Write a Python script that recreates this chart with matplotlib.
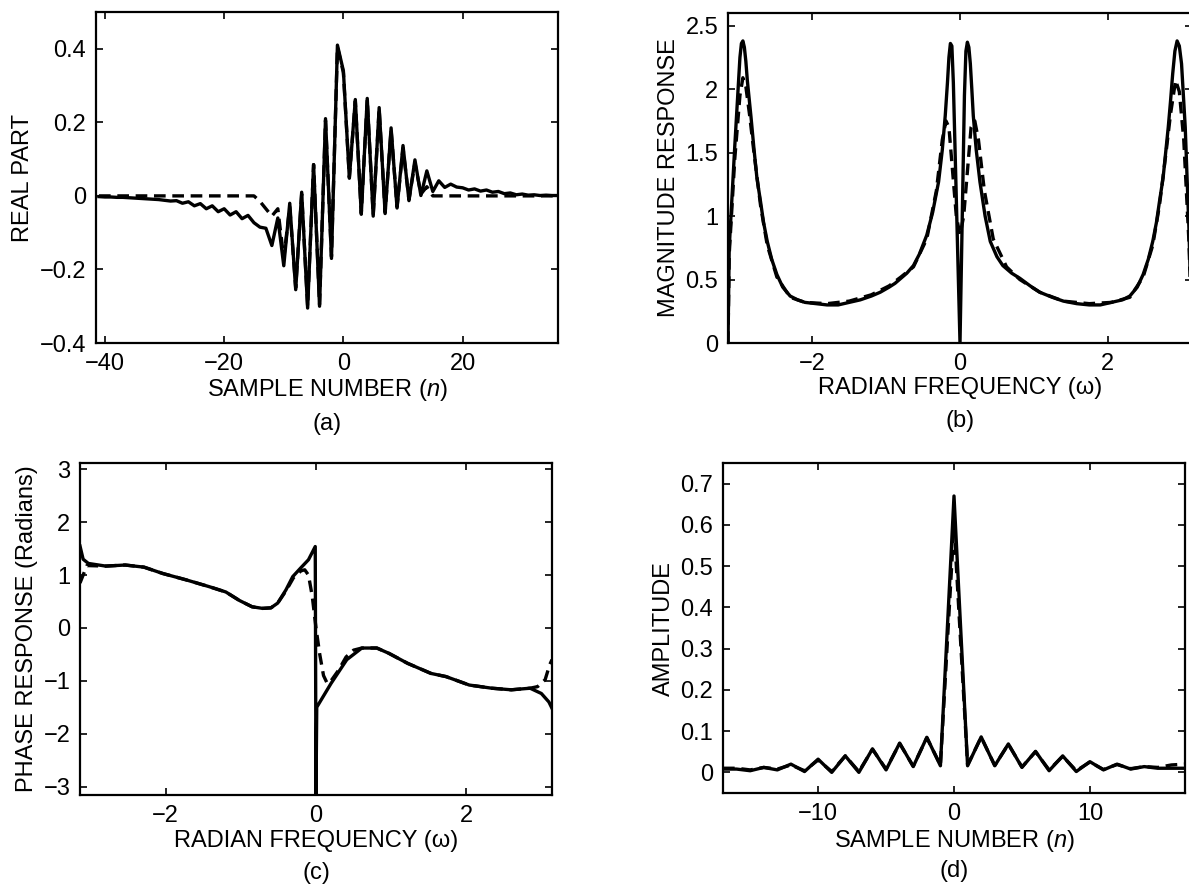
import numpy as np
import matplotlib
matplotlib.use("Agg")
import matplotlib.pyplot as plt

plt.rcParams['font.family'] = ['Liberation Sans', 'DejaVu Sans']
plt.rcParams['mathtext.fontset'] = 'custom'
plt.rcParams['mathtext.rm'] = 'Liberation Sans'
plt.rcParams['mathtext.it'] = 'Liberation Sans:italic'
plt.rcParams['font.size'] = 17

# (a) real part vs sample number
n_a = np.arange(-41, 37)
real_solid = [-0.002, -0.003, -0.003, -0.004, -0.004, -0.005, -0.006, -0.007, -0.008, -0.009,
              -0.010, -0.012, -0.014, -0.013, -0.020, -0.016, -0.027, -0.021, -0.035, -0.027,
              -0.043, -0.035, -0.052, -0.043, -0.062, -0.053, -0.073, -0.085, -0.088, -0.135,
              -0.060, -0.190, -0.020, -0.255, 0.010, -0.305, 0.085, -0.300, 0.210, -0.170,
              0.410, 0.340, 0.048, 0.262, -0.050, 0.265, -0.055, 0.240, -0.048, 0.185,
              -0.033, 0.137, -0.013, 0.098, 0.001, 0.068, 0.012, 0.041, 0.023, 0.032,
              0.024, 0.022, 0.016, 0.019, 0.013, 0.016, 0.010, 0.012, 0.006, 0.008,
              0.003, 0.005, 0.002, 0.003, 0.001, 0.002, 0.001, 0.001]
real_dash = [0.0] * 27 + [-0.015, -0.035, -0.055, -0.035, -0.170, -0.030, -0.250, 0.005, -0.300, 0.085,
                          -0.295, 0.205, -0.165, 0.405, 0.335, 0.050, 0.258, -0.048, 0.262, -0.052,
                          0.236, -0.045, 0.180, -0.030, 0.130, -0.010, 0.090, 0.005, 0.025, 0.0] + [0.0] * 21

# (b) magnitude response
w_b = [-3.1416, -3.125, -3.05, -3.00, -2.98, -2.96, -2.94, -2.92, -2.90, -2.88,
       -2.83, -2.79, -2.75, -2.70, -2.66, -2.61, -2.55, -2.48, -2.40, -2.30,
       -2.20, -2.10, -1.95, -1.80, -1.65, -1.50, -1.35, -1.20, -1.08, -0.96,
       -0.88, -0.80, -0.72, -0.63, -0.55, -0.45, -0.37, -0.29, -0.24, -0.20,
       -0.17, -0.15, -0.13, -0.11, -0.09, 0.0, 0.06, 0.08, 0.10, 0.12,
       0.14, 0.16, 0.18, 0.22, 0.27, 0.34, 0.41, 0.50, 0.58, 0.70,
       0.81, 0.95, 1.08, 1.25, 1.40, 1.58, 1.75, 1.90, 2.05, 2.20,
       2.30, 2.40, 2.48, 2.55, 2.61, 2.66, 2.70, 2.75, 2.79, 2.82,
       2.85, 2.88, 2.91, 2.94, 2.97, 3.00, 3.05, 3.10, 3.1416]
mag_solid = [0.00, 0.75, 1.55, 2.05, 2.25, 2.36, 2.38, 2.33, 2.22, 2.07,
             1.78, 1.53, 1.30, 1.11, 0.95, 0.80, 0.66, 0.54, 0.44, 0.37,
             0.34, 0.32, 0.31, 0.30, 0.30, 0.32, 0.34, 0.37, 0.40, 0.44,
             0.47, 0.51, 0.55, 0.61, 0.70, 0.85, 1.03, 1.27, 1.52, 1.79,
             2.05, 2.25, 2.36, 2.34, 2.05, 0.00, 1.95, 2.30, 2.37, 2.33,
             2.20, 2.00, 1.79, 1.52, 1.27, 1.00, 0.80, 0.68, 0.61, 0.55,
             0.51, 0.45, 0.40, 0.36, 0.33, 0.31, 0.30, 0.30, 0.32, 0.34,
             0.37, 0.44, 0.54, 0.66, 0.80, 0.95, 1.11, 1.30, 1.53, 1.70,
             1.90, 2.12, 2.30, 2.38, 2.34, 2.20, 1.70, 0.90, 0.00]
w_bd = [-3.1416, -3.125, -3.05, -2.98, -2.94, -2.90, -2.85, -2.79, -2.70, -2.61,
        -2.48, -2.30, -2.10, -1.80, -1.50, -1.20, -0.96, -0.80, -0.63, -0.45,
        -0.32, -0.24, -0.19, -0.15, -0.10, -0.05, 0.0, 0.05, 0.10, 0.15,
        0.20, 0.25, 0.33, 0.45, 0.63, 0.81, 1.08, 1.40, 1.75, 2.05,
        2.30, 2.48, 2.61, 2.70, 2.79, 2.85, 2.92, 2.97, 3.03, 3.10, 3.1416]
mag_dash = [0.00, 0.70, 1.45, 1.95, 2.09, 2.02, 1.80, 1.50, 1.08, 0.77,
            0.52, 0.36, 0.32, 0.31, 0.33, 0.38, 0.45, 0.52, 0.60, 0.82,
            1.20, 1.60, 1.75, 1.70, 1.35, 1.00, 0.85, 1.00, 1.35, 1.70,
            1.75, 1.60, 1.20, 0.82, 0.60, 0.50, 0.40, 0.33, 0.31, 0.32,
            0.36, 0.52, 0.77, 1.08, 1.50, 1.80, 2.07, 1.98, 1.60, 0.80, 0.00]

# (c) phase response
w_c = [-3.1416, -3.10, -3.03, -2.80, -2.54, -2.29, -2.04, -1.73, -1.42, -1.20,
       -1.02, -0.85, -0.71, -0.60, -0.51, -0.40, -0.31, -0.20, -0.10, -0.01,
       0.0, 0.01, 0.20, 0.41, 0.61, 0.81, 0.97, 1.22, 1.53, 1.73,
       2.04, 2.34, 2.60, 2.85, 3.00, 3.10, 3.1416]
phase_solid = [1.55, 1.30, 1.22, 1.17, 1.19, 1.15, 1.03, 0.91, 0.78, 0.68,
               0.52, 0.40, 0.37, 0.38, 0.47, 0.72, 0.97, 1.14, 1.29, 1.54,
               -3.14, -1.50, -1.05, -0.60, -0.38, -0.38, -0.48, -0.67, -0.86, -0.92,
               -1.08, -1.14, -1.17, -1.14, -1.24, -1.40, -1.52]
w_cd = [-3.1416, -3.10, -3.05, -2.80, -2.54, -2.29, -2.04, -1.73, -1.42, -1.20,
        -1.02, -0.85, -0.71, -0.60, -0.51, -0.40, -0.30, -0.20, -0.15, -0.10,
        -0.05, 0.0, 0.05, 0.10, 0.15, 0.20, 0.30, 0.40, 0.50, 0.61,
        0.81, 0.97, 1.22, 1.53, 1.73, 2.04, 2.34, 2.60, 2.85, 2.95,
        3.05, 3.11, 3.1416]
phase_dash = [0.85, 1.00, 1.18, 1.17, 1.19, 1.15, 1.03, 0.91, 0.78, 0.68,
              0.52, 0.40, 0.37, 0.38, 0.47, 0.70, 0.95, 1.08, 1.10, 1.00,
              0.60, 0.0, -0.50, -0.90, -1.05, -1.00, -0.80, -0.55, -0.42, -0.38,
              -0.38, -0.48, -0.67, -0.86, -0.92, -1.08, -1.14, -1.17, -1.14, -1.11,
              -0.98, -0.70, -0.60]

# (d) amplitude vs sample number
n_d = np.arange(-17, 18)
amp_solid = [0.008, 0.008, 0.004, 0.012, 0.006, 0.020, 0.002, 0.032, 0.0, 0.040,
             0.0, 0.057, 0.006, 0.071, 0.014, 0.085, 0.016, 0.670, 0.016, 0.086,
             0.016, 0.069, 0.012, 0.051, 0.004, 0.040, 0.002, 0.026, 0.006, 0.020,
             0.008, 0.014, 0.010, 0.010, 0.010]
amp_dash = [0.010, 0.010, 0.006, 0.012, 0.008, 0.018, 0.004, 0.030, 0.002, 0.040,
            0.002, 0.056, 0.008, 0.070, 0.015, 0.084, 0.018, 0.600, 0.018, 0.085,
            0.017, 0.068, 0.013, 0.050, 0.006, 0.039, 0.004, 0.025, 0.007, 0.019,
            0.009, 0.014, 0.012, 0.018, 0.020]

W, H = 1189, 888
fig = plt.figure(figsize=(W / 100, H / 100), dpi=100)


def add_ax(left, top, right, bottom):
    return fig.add_axes([left / W, 1 - bottom / H, (right - left) / W, (bottom - top) / H])


def style(ax):
    for s in ax.spines.values():
        s.set_linewidth(1.6)
    ax.tick_params(direction='in', length=5, width=1.2, top=True, right=True, pad=7)


LW = 2.4
DASH = (0, (3.5, 2.0))

ax_a = add_ax(96, 12, 558, 343)
ax_a.plot(n_a, real_dash, color='black', lw=LW, ls=DASH)
ax_a.plot(n_a, real_solid, color='black', lw=LW)
ax_a.set_xlim(-41.5, 36)
ax_a.set_ylim(-0.4, 0.5)
ax_a.set_xticks([-40, -20, 0, 20])
ax_a.set_yticks([-0.4, -0.2, 0, 0.2, 0.4])
ax_a.set_yticklabels(['\u22120.4', '\u22120.2', '0', '0.2', '0.4'])
ax_a.set_xlabel('SAMPLE NUMBER ($\\mathit{n}$)', labelpad=2)
ax_a.set_ylabel('REAL PART')
style(ax_a)
ax_a.text(0.5, -0.245, '(a)', transform=ax_a.transAxes, ha='center', va='center')

ax_b = add_ax(728, 13, 1192, 343)
ax_b.plot(w_bd, mag_dash, color='black', lw=LW, ls=DASH)
ax_b.plot(w_b, mag_solid, color='black', lw=LW)
ax_b.set_xlim(-np.pi, np.pi)
ax_b.set_ylim(0, 2.6)
ax_b.set_xticks([-2, 0, 2])
ax_b.set_yticks([0, 0.5, 1, 1.5, 2, 2.5])
ax_b.set_yticklabels(['0', '0.5', '1', '1.5', '2', '2.5'])
ax_b.set_xlabel('RADIAN FREQUENCY (\u03c9)', labelpad=2)
ax_b.set_ylabel('MAGNITUDE RESPONSE')
style(ax_b)
ax_b.text(0.5, -0.235, '(b)', transform=ax_b.transAxes, ha='center', va='center')

ax_c = add_ax(80, 463, 552, 795)
ax_c.plot(w_cd, phase_dash, color='black', lw=LW, ls=DASH)
ax_c.plot(w_c, phase_solid, color='black', lw=LW)
ax_c.set_xlim(-np.pi, np.pi)
ax_c.set_ylim(-3.16, 3.12)
ax_c.set_xticks([-2, 0, 2])
ax_c.set_yticks([-3, -2, -1, 0, 1, 2, 3])
ax_c.set_xlabel('RADIAN FREQUENCY (\u03c9)', labelpad=2)
ax_c.set_ylabel('PHASE RESPONSE (Radians)')
style(ax_c)
ax_c.text(0.5, -0.235, '(c)', transform=ax_c.transAxes, ha='center', va='center')

ax_d = add_ax(723, 463, 1185, 793)
ax_d.plot(n_d, amp_dash, color='black', lw=LW, ls=DASH)
ax_d.plot(n_d, amp_solid, color='black', lw=LW)
ax_d.set_xlim(-17, 17)
ax_d.set_ylim(-0.05, 0.75)
ax_d.set_xticks([-10, 0, 10])
ax_d.set_yticks([0, 0.1, 0.2, 0.3, 0.4, 0.5, 0.6, 0.7])
ax_d.set_yticklabels(['0', '0.1', '0.2', '0.3', '0.4', '0.5', '0.6', '0.7'])
ax_d.set_xlabel('SAMPLE NUMBER ($\\mathit{n}$)', labelpad=2)
ax_d.set_ylabel('AMPLITUDE')
style(ax_d)
ax_d.text(0.5, -0.235, '(d)', transform=ax_d.transAxes, ha='center', va='center')

fig.savefig('out.png', dpi=100)
